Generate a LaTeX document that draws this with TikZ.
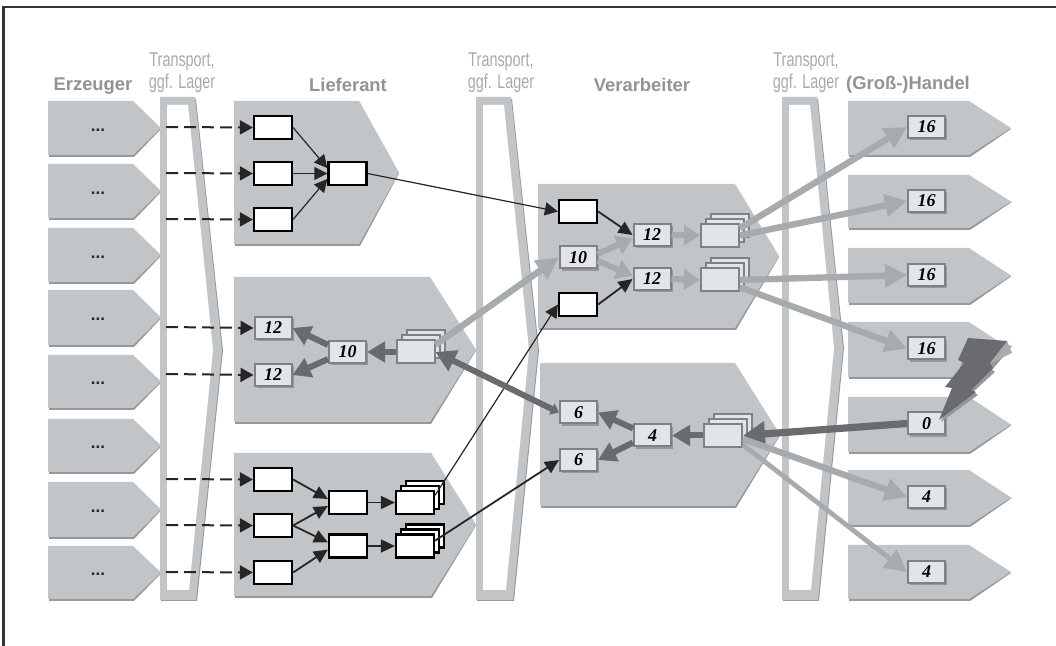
\documentclass[tikz,border=0pt]{standalone}
\usepackage{fontspec}
\setmainfont{Liberation Sans}
\newfontfamily\thinfont[FakeStretch=0.72]{Liberation Sans}
\newfontfamily\numfont{Liberation Serif}
\usetikzlibrary{arrows.meta,shadows}

\definecolor{chevfill}{RGB}{194,197,200}
\definecolor{chevedge}{RGB}{150,152,155}
\definecolor{headgrey}{RGB}{145,147,150}
\definecolor{boxfill}{RGB}{226,229,231}
\definecolor{flowlight}{RGB}{168,171,174}
\definecolor{flowdark}{RGB}{105,107,110}

% Pfeilform: links, oben, Knick, Spitze, unten
\newcommand{\chevron}[5]{%
  \fill[chevedge] (#1+1,#2+2) -- (#3+1,#2+2) -- (#4,{(#2+#5)/2+1}) -- (#3+1,#5+2) -- (#1+1,#5+2) -- cycle;
  \fill[chevfill] (#1,#2) -- (#3,#2) -- (#4,{(#2+#5)/2}) -- (#3,#5) -- (#1,#5) -- cycle;
}
% Transportbalken: links, Knick rechts oben, Spitze, Knick rechts unten, Hoehe der Spitze
\newcommand{\transportbar}[5]{%
  \fill[chevedge] (#1+1,99) -- (#2+1,99) -- (#3+1,#5) -- (#4+1,601) -- (#1+1,601) -- cycle;
  \fill[chevfill] (#1,97) -- (#2,97) -- (#3,#5) -- (#4,600) -- (#1,600) -- cycle;
  \fill[white] (#1+7,105) -- (#2-7,105) -- (#3-9,#5) -- (#4-7,590) -- (#1+7,590) -- cycle;
}

\begin{document}
\begin{tikzpicture}[x=0.5pt,y=-0.5pt,
    wbox/.style={draw=black, fill=white, line width=1.1pt, minimum width=19pt, minimum height=11.5pt, inner sep=0pt},
    numbox/.style={draw=flowdark!85, fill=boxfill, line width=1pt, minimum width=18.5pt, minimum height=11pt, inner sep=0pt,
      font=\numfont\bfseries\itshape\fontsize{9}{9}\selectfont,
      drop shadow={shadow xshift=1.2pt, shadow yshift=-1.2pt, fill=flowdark!70, opacity=1}},
    stackw/.style={wbox, double copy shadow={shadow xshift=2.5pt, shadow yshift=2.5pt}},
    stackg/.style={draw=flowdark!85, fill=boxfill, line width=1pt, minimum width=19pt, minimum height=11.5pt, inner sep=0pt,
      double copy shadow={shadow xshift=2.5pt, shadow yshift=2.5pt}},
    head/.style={font=\bfseries\fontsize{9.2}{9.2}\selectfont, text=headgrey},
    transp/.style={font=\thinfont\fontsize{10}{11}\selectfont, text=headgrey!80, align=center},
    dots/.style={font=\bfseries\fontsize{8.5}{8.5}\selectfont, text=black!85},
    feed/.style={dashed, dash pattern=on 6pt off 3pt, line width=1pt, black!85, -{Triangle[length=6.5pt,width=7pt]}},
    flowthin/.style={line width=0.6pt, black!85, -{Triangle[length=6.5pt,width=6.5pt]}},
    flowblack/.style={line width=0.9pt, black!85, -{Triangle[length=7pt,width=6.5pt]}},
    flowgrey/.style={line width=3.2pt, flowlight, -{Triangle[length=11pt,width=11pt]}},
    flowmid/.style={line width=3pt, flowlight, -{Triangle[length=8pt,width=10pt]}},
    flowback/.style={line width=3pt, flowdark, -{Triangle[length=9pt,width=10pt]}}
  ]
  \useasboundingbox (0,0) rectangle (1056,646);

  % Rahmen
  \draw[line width=1.2pt, black!80] (3.5,648) -- (3.5,7) -- (1058,7);

  % Ueberschriften
  \node[head] (terz) at (93,86) {Erzeuger};
  \node[head] (tlie) at (348,85) {Lieferant};
  \node[head] (tver) at (642,85) {Verarbeiter};
  \node[head] (than) at (908,85) {(Groß-)Handel};
  \node[transp] (ttr1) at (182,73) {Transport,\\ggf. Lager};
  \node[transp] (ttr2) at (501,73) {Transport,\\ggf. Lager};
  \node[transp] (ttr3) at (806,73) {Transport,\\ggf. Lager};

  % Erzeuger
  \foreach \a/\b [count=\i] in {101/155,164/218,228/282,290/345,355/408,419/472,482/537,546/599}{
    \chevron{48}{\a}{133}{161}{\b}
    \node[dots] (erz\i) at (98,{(\a+\b)/2+2}) {...};
  }

  % Transport
  \transportbar{160}{195}{222}{196}{350}
  \transportbar{476}{511}{538}{513}{350}
  \transportbar{782}{817}{843}{818}{348}

  % Lieferant, Verarbeiter
  \chevron{234}{101}{359}{399}{244}
  \chevron{234}{277}{430}{476}{422}
  \chevron{234}{453}{431}{476}{596}
  \chevron{538}{184}{735}{779}{328}
  \chevron{540}{363}{735}{780}{506}

  % Handel
  \foreach \a/\b in {101/155,175/228,248/303,322/377,397/452,470/525,545/599}{
    \chevron{848}{\a}{969}{1011}{\b}
  }

  % Lieferant 1
  \node[wbox] (la) at (273,127.5) {};
  \node[wbox] (lb) at (273,173.5) {};
  \node[wbox] (lc) at (273,219.5) {};
  \node[wbox] (lo) at (347.5,173.5) {};
  \draw[flowthin] (la.east) -- (lo.165);
  \draw[flowthin] (lb.east) -- (lo.west);
  \draw[flowthin] (lc.east) -- (lo.195);

  % Lieferant 2
  \node[numbox] (ma) at (273,328) {12};
  \node[numbox] (mb) at (273,375) {12};
  \node[numbox] (mc) at (347.5,352) {10};
  \node[stackg] (ms) at (415.5,352) {};

  % Lieferant 3
  \node[wbox] (ua) at (273,479.5) {};
  \node[wbox] (ub) at (273,525.5) {};
  \node[wbox] (uc) at (273,572.5) {};
  \node[wbox] (ud) at (348,502.5) {};
  \node[wbox] (ue) at (348,546) {};
  \node[stackw] (uf) at (415,502.5) {};
  \node[stackw] (ug) at (415,546) {};
  \draw[flowblack] (ua.east) -- (ud.170);
  \draw[flowblack] (ub.east) -- (ud.190);
  \draw[flowblack] (ub.east) -- (ue.170);
  \draw[flowblack] (uc.east) -- (ue.190);
  \draw[flowblack] (ud.east) -- (uf.west);
  \draw[flowblack] (ue.east) -- (ug.west);

  % Verarbeiter 1
  \node[wbox] (va) at (578,211.5) {};
  \node[numbox] (vb) at (578,257.5) {10};
  \node[wbox] (vc) at (578,304.5) {};
  \node[numbox] (vd) at (652,235) {12};
  \node[numbox] (ve) at (652,279) {12};
  \node[stackg] (vf) at (720,235.5) {};
  \node[stackg] (vg) at (720,280) {};
  \draw[flowblack] (va.east) -- (vd.west);
  \draw[flowblack] (vc.east) -- (ve.west);
  \draw[flowmid] (vb.10) -- (vd.190);
  \draw[flowmid] (vb.350) -- (ve.170);
  \draw[flowmid] (vd.east) -- (vf.west);
  \draw[flowmid] (ve.east) -- (vg.west);

  % Verarbeiter 2
  \node[numbox] (wa) at (578.5,412.5) {6};
  \node[numbox] (wb) at (578.5,460) {6};
  \node[numbox] (wc) at (652.5,435.5) {4};
  \node[stackg] (wd) at (723,435.5) {};

  % Handel
  \node[numbox] (ha) at (926.5,127) {16};
  \node[numbox] (hb) at (926.5,201) {16};
  \node[numbox] (hc) at (926.5,275) {16};
  \node[numbox] (hd) at (926.5,348.5) {16};
  \node[numbox] (he) at (926.5,423.5) {0};
  \node[numbox] (hf) at (926.5,497) {4};
  \node[numbox] (hg) at (926.5,572) {4};

  % Anlieferung
  \foreach \y/\t [count=\i] in {127/la,173/lb,219/lc,327/ma,374/mb,479/ua,525/ub,572/uc}{
    \coordinate (fs\i) at (166,\y);
    \draw[feed] (fs\i) -- (\t.west);
  }

  % Materialfluss
  \draw[flowthin] (lo.east) -- (va.west);
  \draw[flowthin] (uf.20) -- (vc.west);
  \draw[flowblack] (ug.15) -- (wb.west);
  \draw[flowgrey] (ms.20) -- (vb.west);
  \draw[flowback] (mc.160) -- (ma.east);
  \draw[flowback] (mc.200) -- (mb.east);
  \draw[flowback] (ms.west) -- (mc.east);
  \draw[flowback] (wc.160) -- (wa.east);
  \draw[flowback] (wc.200) -- (wb.east);
  \draw[flowback] (wd.west) -- (wc.east);
  \draw[flowback, {Triangle[length=10pt,width=11pt]}-{Triangle[length=4pt,width=6pt]}] (ms.east) -- (wa.west);
  \draw[flowback, line width=3.6pt, -{Triangle[length=11pt,width=12pt]}] (he.west) -- (wd.east);
  \draw[flowgrey] (vf.20) -- (ha.west);
  \draw[flowgrey] (vf.east) -- (hb.west);
  \draw[flowgrey] (vg.east) -- (hc.west);
  \draw[flowgrey] (vg.340) -- (hd.west);
  \draw[flowgrey] (wd.350) -- (hf.west);
  \draw[flowgrey, line width=2.4pt] (wd.335) -- (hg.west);

  % Blitz
  \fill[chevedge] (968,340) -- (1012,346) -- (992,370) -- (995,372) -- (973,392) -- (978,395)
    -- (941,422) -- (954,390) -- cycle;
  \fill[flowlight] (1007,341) -- (1012,353) -- (985,366) -- (960,366) -- cycle;
  \fill[flowdark] (968,338) -- (1007,341) -- (990,363) -- (993,368) -- (971,390) -- (976,392)
    -- (939,420) -- (952,388) -- (945,387) -- (964,363) -- (958,360) -- cycle;
\end{tikzpicture}
\end{document}
